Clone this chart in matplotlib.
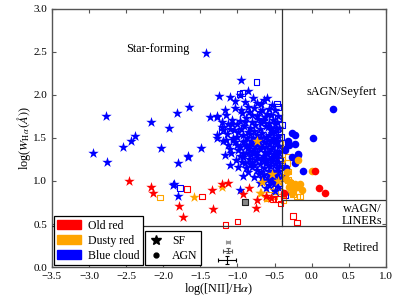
import matplotlib
matplotlib.use('Agg')
import matplotlib.pyplot as plt
from matplotlib.patches import Patch
from matplotlib.lines import Line2D

plt.rcParams['font.family'] = ['Liberation Serif', 'DejaVu Serif']
plt.rcParams['mathtext.fontset'] = 'stix'
plt.rcParams['font.size'] = 8

# blue cloud, star-forming
blue_sf_x = [-2.95, -2.76, -2.77, -2.54, -2.44, -2.38, -2.17, -2.03, -1.92, -1.82, -1.65, -1.66, -1.80, -1.42, -1.87,
             -1.86, -1.80, -1.49, -1.67, -1.37,
             -0.95, -0.86, -1.25, -1.10, -0.97, -0.64, -0.74, -0.54, -1.03, -0.60,
             -0.86, -1.03, -1.17, -0.70, -0.58, -0.49, -0.95, -0.78,
             -0.94, -0.80, -1.28, -0.63, -0.52, -1.07, -1.28, -0.72, -0.45, -1.15, -0.88, -0.60,
             -0.90, -1.21, -0.76, -0.59, -1.10, -1.21, -1.00, -0.68, -0.50, -0.83, -0.95, -0.55, -0.44, -0.70,
             -0.99, -0.86, -0.67, -0.49, -1.28, -1.06, -0.79, -1.20, -0.57, -0.93, -0.73, -0.62, -0.45, -1.14, -0.83, -0.52,
             -0.59, -0.93, -0.70, -1.13, -0.52, -1.28, -1.06, -0.82, -0.64, -0.47, -1.00, -0.76, -0.57, -0.88, -1.20, -0.44,
             -0.86, -0.99, -0.63, -0.79, -0.55, -0.70, -0.93, -0.47, -1.08, -0.60, -0.75, -0.51, -1.17, -0.66, -0.83,
             -0.93, -0.49, -0.80, -0.67, -0.85, -0.58, -0.72, -0.45, -1.02, -0.62, -0.54, -0.90, -0.77,
             -1.10, -0.99, -0.59, -0.73, -0.47, -0.86, -0.64, -0.52, -0.80, -0.68, -0.43, -0.57,
             -0.56, -0.67, -0.49, -0.78, -0.60, -0.44, -0.52, -0.92,
             -0.45, -0.97, -0.58, -0.50, -0.62, -0.69, -0.55, -0.48, -0.61, -0.71, -0.53, -0.65, -0.74, -0.46,
             -1.12, -1.04, -0.97, -0.91, -0.87, -0.81, -0.77, -0.74, -0.66, -0.62, -0.57, -0.53, -0.48, -0.46,
             -0.50, -0.55, -0.61, -0.68, -0.72, -0.79, -0.85, -0.90, -0.96, -1.03, -1.10, -1.15, -0.97, -0.89,
             -0.82, -0.78, -0.73, -0.66, -0.58, -0.53, -0.47, -0.44, -0.49, -0.56, -0.61, -0.69, -0.75, -0.83,
             -0.88, -0.94, -0.64, -0.71, -0.58, -0.48, -0.44, -0.51, -0.55, -1.00, -1.07, -0.84, -0.67, -0.55,
             -0.47, -0.90, -0.79, -0.68]
blue_sf_y = [1.33, 1.22, 1.76, 1.40, 1.47, 1.52, 1.69, 1.38, 1.62, 1.79, 1.86, 1.29, 1.21, 2.49, 0.95,
             0.97, 0.83, 1.38, 1.28, 1.74,
             2.17, 2.05, 1.99, 1.98, 2.00, 1.94, 1.91, 1.88, 1.93, 1.97,
             1.86, 1.85, 1.83, 1.80, 1.84, 1.82, 1.82, 1.85,
             1.79, 1.77, 1.74, 1.74, 1.71, 1.71, 1.76, 1.72, 1.76, 1.77, 1.73, 1.78,
             1.69, 1.63, 1.65, 1.63, 1.61, 1.69, 1.66, 1.68, 1.66, 1.62, 1.61, 1.60, 1.62, 1.61,
             1.57, 1.57, 1.56, 1.57, 1.53, 1.50, 1.50, 1.59, 1.53, 1.53, 1.53, 1.51, 1.52, 1.55, 1.55, 1.50,
             1.48, 1.45, 1.42, 1.42, 1.40, 1.50, 1.48, 1.46, 1.45, 1.45, 1.42, 1.41, 1.43, 1.41, 1.46, 1.41,
             1.38, 1.36, 1.34, 1.33, 1.37, 1.37, 1.32, 1.35, 1.33, 1.31, 1.30, 1.31, 1.30, 1.39, 1.35,
             1.28, 1.28, 1.22, 1.24, 1.26, 1.26, 1.27, 1.22, 1.24, 1.21, 1.23, 1.21, 1.19,
             1.19, 1.16, 1.19, 1.13, 1.15, 1.10, 1.15, 1.12, 1.16, 1.10, 1.18, 1.08,
             1.07, 1.04, 0.99, 1.05, 1.01, 1.04, 1.03, 1.06,
             0.93, 0.90, 0.95, 0.88, 0.92, 0.98, 1.00, 1.09, 1.25, 1.47, 1.58, 1.70, 1.43, 1.33,
             1.66, 1.59, 1.70, 1.64, 1.50, 1.69, 1.58, 1.75, 1.71, 1.64, 1.68, 1.56, 1.62, 1.50,
             1.45, 1.47, 1.40, 1.50, 1.46, 1.43, 1.42, 1.47, 1.39, 1.45, 1.37, 1.48, 1.29, 1.33,
             1.30, 1.37, 1.34, 1.29, 1.34, 1.28, 1.27, 1.33, 1.20, 1.17, 1.24, 1.20, 1.24, 1.20,
             1.15, 1.22, 1.07, 1.08, 1.12, 1.07, 1.12, 0.96, 1.02, 1.51, 1.66, 1.80, 1.83, 1.77,
             1.69, 1.92, 1.97, 1.89]

dusty_sf_x = [-0.74, -1.59, -1.21, -0.68, -0.54, -0.67, -0.70, -0.45, -0.60]
dusty_sf_y = [1.47, 0.81, 0.93, 0.86, 1.08, 0.99, 0.86, 1.00, 0.80]

old_sf_x = [-2.46, -2.16, -2.14, -1.79, -1.73, -1.34, -1.33, -1.21, -1.13, -0.92, -0.85, -0.75, -0.74, -0.62, -0.55]
old_sf_y = [1.00, 0.93, 0.86, 0.71, 0.58, 0.90, 0.67, 0.97, 0.98, 0.85, 0.92, 0.69, 0.78, 0.82, 0.80]

# AGN (filled circles)
blue_agn_x = [0.29, 0.02, -0.23, -0.27, -0.32, -0.22, -0.18, -0.12, -0.31, -0.27, -0.19, -0.22, -0.36, -0.35]
blue_agn_y = [1.84, 1.50, 1.53, 1.56, 1.46, 1.43, 1.31, 1.12, 1.42, 1.28, 1.30, 1.21, 1.36, 1.15]
dusty_agn_x = [-0.19, 0.00, -0.20, -0.13, -0.25, -0.29, -0.22, -0.31, -0.35, -0.27, -0.16, -0.33]
dusty_agn_y = [1.24, 1.12, 0.93, 0.90, 0.90, 0.99, 0.97, 0.93, 1.02, 0.86, 0.96, 1.10]
old_agn_x = [0.05, 0.10, 0.18, -0.37]
old_agn_y = [1.12, 0.92, 0.86, 0.86]

# open squares
blue_sq_x = [-0.74, -0.97, -0.93, -1.77, -1.21, -0.47, -0.45, -0.45, -0.40, -0.41, -0.40, -0.43, -0.43, -0.40,
             -0.39, -0.40, -0.43, -0.49, -0.36, -0.42, -0.46]
blue_sq_y = [2.15, 2.01, 2.02, 0.92, 1.59, 1.90, 1.86, 1.73, 1.65, 1.51, 1.44, 1.38, 1.30, 1.19,
             1.10, 1.03, 0.95, 0.86, 0.84, 1.24, 1.60]
dusty_sq_x = [-2.04, -0.56, -0.52, -0.32, -0.29, -0.16, -0.32, -0.33, -0.32, -0.35, -0.42, -0.40, -0.45,
              -0.30, -0.25, -0.50, -0.42, -0.28, -0.60, -0.47, -0.20, -0.38]
dusty_sq_y = [0.81, 0.90, 0.94, 1.01, 0.98, 0.82, 1.28, 1.21, 1.11, 1.05, 1.43, 1.25, 0.97,
              0.95, 0.85, 0.82, 0.88, 0.90, 0.80, 1.05, 0.82, 0.78]
old_sq_x = [-1.68, -1.48, -1.00, -1.16, -0.25, -0.20, -0.52, -0.45, -0.42, -0.38]
old_sq_y = [0.91, 0.82, 0.53, 0.49, 0.59, 0.52, 0.79, 0.79, 0.74, 0.83]
dark_sq_x = [-0.90]
dark_sq_y = [0.75]

# typical error bars
err_x = [-1.13, -1.13, -1.14]
err_y = [0.29, 0.19, 0.08]
err_dx = [0.03, 0.06, 0.12]
err_dy = [0.012, 0.03, 0.05]
err_col = ['#999999', '#555555', 'black']

# WHAN class borders
nii_cut = -0.4
w_strong = 0.778
w_retired = 0.477

fig = plt.figure(figsize=(3.99, 2.99), dpi=100)
ax = fig.add_axes([0.130, 0.107, 0.837, 0.863])

ms = 62
for xs, ys, c in [(blue_sq_x, blue_sq_y, 'blue'), (dusty_sq_x, dusty_sq_y, 'orange'), (old_sq_x, old_sq_y, 'red')]:
    ax.scatter(xs, ys, s=16, marker='s', facecolors='none', edgecolors=c, linewidths=0.8, zorder=2)
ax.scatter(dark_sq_x, dark_sq_y, s=16, marker='s', facecolors='#888888', edgecolors='#222222', linewidths=0.8, zorder=2)

ax.scatter(blue_sf_x, blue_sf_y, s=ms, marker='*', color='blue', linewidths=0, zorder=3)
ax.scatter(dusty_sf_x, dusty_sf_y, s=ms, marker='*', color='orange', linewidths=0, zorder=3)
ax.scatter(old_sf_x, old_sf_y, s=ms, marker='*', color='red', linewidths=0, zorder=3)

ax.scatter(blue_agn_x, blue_agn_y, s=30, marker='o', color='blue', linewidths=0, zorder=3)
ax.scatter(dusty_agn_x, dusty_agn_y, s=30, marker='o', color='orange', linewidths=0, zorder=3)
ax.scatter(old_agn_x, old_agn_y, s=30, marker='o', color='red', linewidths=0, zorder=3)

for i in range(3):
    ax.errorbar(err_x[i], err_y[i], xerr=err_dx[i], yerr=err_dy[i], fmt='none',
                ecolor=err_col[i], elinewidth=0.8, capsize=1.5, capthick=0.8)

lc = '#333333'
ax.plot([nii_cut, nii_cut], [w_retired, 3.0], color=lc, lw=0.9, zorder=4)
ax.plot([nii_cut, 1.0], [w_strong, w_strong], color=lc, lw=0.9, zorder=4)
ax.plot([-3.5, 1.0], [w_retired, w_retired], color=lc, lw=0.9, zorder=4)

ax.text(-2.07, 2.53, 'Star-forming', ha='center', va='center', fontsize=8.8)
ax.text(0.40, 2.04, 'sAGN/Seyfert', ha='center', va='center', fontsize=8.8)
ax.text(0.68, 0.60, 'wAGN/\nLINERs', ha='center', va='center', fontsize=8.8, linespacing=1.0)
ax.text(0.67, 0.22, 'Retired', ha='center', va='center', fontsize=8.8)

ax.set_xlim(-3.5, 1.0)
ax.set_ylim(0.0, 3.0)
ax.set_xticks([-3.5, -3.0, -2.5, -2.0, -1.5, -1.0, -0.5, 0.0, 0.5, 1.0])
ax.set_yticks([0.0, 0.5, 1.0, 1.5, 2.0, 2.5, 3.0])
ax.tick_params(direction='in', top=True, right=True, length=3, width=0.8, color='#555555', labelsize=8)
for s in ax.spines.values():
    s.set_color('#555555')
    s.set_linewidth(1.0)

ax.set_xlabel(r'log([NII]/H$\alpha$)', fontsize=8.8, labelpad=0)
ax.set_ylabel(r'log($W_{\mathrm{H}\alpha}\,(\AA)$)', fontsize=8.8, labelpad=0)

h1 = [Patch(color='red', label='Old red'), Patch(color='orange', label='Dusty red'),
      Patch(color='blue', label='Blue cloud')]
leg1 = ax.legend(handles=h1, loc='lower left', bbox_to_anchor=(0.0, 0.0), borderaxespad=0.15,
                 fancybox=False, edgecolor='black', framealpha=1, fontsize=8.5,
                 handlelength=2.0, handleheight=0.8, handletextpad=0.6,
                 labelspacing=0.25, borderpad=0.3)
leg1.get_frame().set_linewidth(0.9)
leg1.set_zorder(6)
ax.add_artist(leg1)

h2 = [Line2D([], [], marker='*', color='black', ls='none', markersize=7, label='SF'),
      Line2D([], [], marker='o', color='black', ls='none', markersize=3.5, label='AGN')]
leg2 = ax.legend(handles=h2, loc='lower left', bbox_to_anchor=(0.274, 0.0), borderaxespad=0.15,
                 fancybox=False, edgecolor='black', framealpha=1, fontsize=8.5,
                 handlelength=1.2, labelspacing=0.25, borderpad=0.3)
leg2.get_frame().set_linewidth(0.9)
leg2.set_zorder(6)

fig.savefig('out.png', dpi=100)
